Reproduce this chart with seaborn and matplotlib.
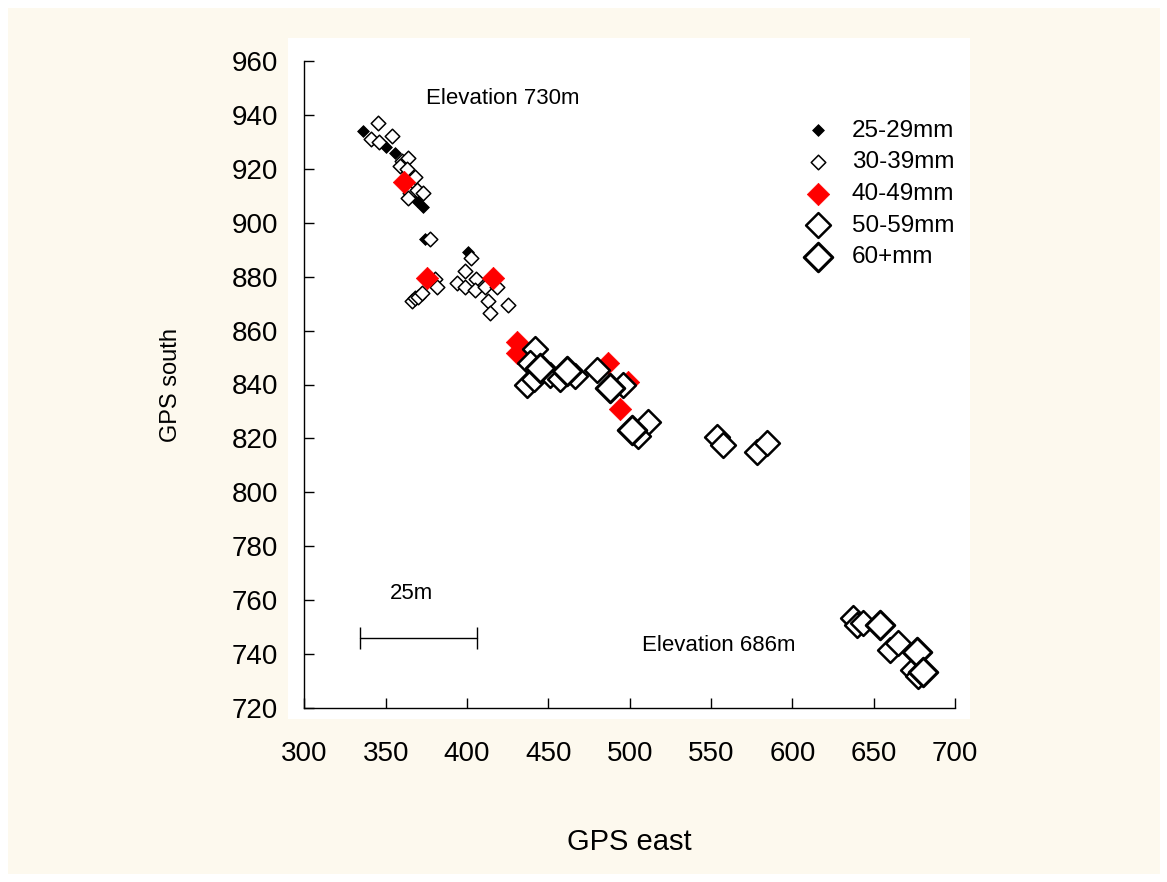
import matplotlib
matplotlib.use("Agg")
import matplotlib.pyplot as plt
from matplotlib.patches import Rectangle
import seaborn as sns
import pandas as pd

# Shell-length classes and their GPS positions (east, south)
classes = ["25-29mm", "30-39mm", "40-49mm", "50-59mm", "60+mm"]

east_25 = [336, 350, 356, 369, 373, 374, 400.5]
south_25 = [934, 928, 926, 908, 906, 894, 889]

east_30 = [345, 341, 346, 354, 360, 364, 359, 363, 368, 365, 369, 373, 364,
           377, 402.5, 399, 380, 381.5, 366, 368, 370, 372, 394, 399, 405.6,
           405, 411, 418.5, 413, 414, 425]
south_30 = [937, 931, 930, 932, 923, 924, 921, 920, 917, 911, 912, 911, 909,
            894, 887, 882, 879, 876, 871, 872, 872.5, 874, 877.6, 876, 879,
            875, 876, 876, 871, 866.5, 869.5]

east_40 = [361, 375.5, 416, 430.8, 430.8, 447, 486.8, 499, 494]
south_40 = [915, 879.5, 879.5, 855.8, 851.7, 846, 848, 841, 831]

east_50 = [442, 439, 437, 441, 451, 457, 466.5, 480, 496, 511, 505, 553.6,
           557.4, 578, 584.5, 637.4, 640, 643.6, 660, 665, 674.3, 677]
south_50 = [853, 848, 840, 842, 843.5, 842, 843, 845.4, 840, 826, 821, 820.5,
            817.6, 815, 818.3, 753.4, 750.8, 751.5, 741.5, 744, 734, 732]

east_60 = [445, 461.6, 488, 501.6, 654, 676.7, 680.4]
south_60 = [846, 845, 838.7, 823, 750.8, 740.8, 733.4]

x_ticks = [300, 350, 400, 450, 500, 550, 600, 650, 700]
y_ticks = [720, 740, 760, 780, 800, 820, 840, 860, 880, 900, 920, 940, 960]

frames = []
for cls, ex, so in zip(classes,
                       [east_25, east_30, east_40, east_50, east_60],
                       [south_25, south_30, south_40, south_50, south_60]):
    frames.append(pd.DataFrame({"east": ex, "south": so, "length": cls}))
df = pd.concat(frames, ignore_index=True)

# marker styling per class
styles = {
    "25-29mm": dict(s=36, color="black", edgecolor="black", linewidth=0.6),
    "30-39mm": dict(s=55, color="white", edgecolor="black", linewidth=1.1),
    "40-49mm": dict(s=130, color="#ff0000", edgecolor="#ff0000", linewidth=0.5),
    "50-59mm": dict(s=160, color="white", edgecolor="black", linewidth=1.8),
    "60+mm": dict(s=210, color="white", edgecolor="black", linewidth=2.2),
}

sns.set_theme(style="ticks")
plt.rcParams["font.family"] = ["Liberation Sans", "DejaVu Sans"]
plt.rcParams["text.color"] = "black"
plt.rcParams["axes.labelcolor"] = "black"
plt.rcParams["xtick.color"] = "black"
plt.rcParams["ytick.color"] = "black"

W, H = 1167, 882
fig = plt.figure(figsize=(W / 100, H / 100), dpi=100)
fig.patch.set_facecolor("white")

# cream page and white plotting panel
fig.add_artist(Rectangle((8 / W, 8 / H), (1160 - 8) / W, (874 - 8) / H,
                         transform=fig.transFigure, facecolor="#fdf9ee",
                         edgecolor="none", zorder=-3))
fig.add_artist(Rectangle((288 / W, (H - 719) / H), (970 - 288) / W, (719 - 38) / H,
                         transform=fig.transFigure, facecolor="white",
                         edgecolor="none", zorder=-2))

ax = fig.add_axes([304.4 / W, (H - 708) / H, (955 - 304.4) / W, (708 - 61) / H])
ax.set_facecolor("none")

for cls in classes:
    sub = df[df["length"] == cls]
    sns.scatterplot(data=sub, x="east", y="south", marker="D", ax=ax,
                    label=cls, zorder=3, **styles[cls])

ax.set_xlim(300, 700)
ax.set_ylim(720, 960)
ax.set_xticks(x_ticks)
ax.set_yticks(y_ticks)
ax.tick_params(direction="in", length=7, width=1, labelsize=20, color="black",
               labelcolor="black")
ax.tick_params(axis="x", pad=24)
ax.tick_params(axis="y", pad=19)
for side in ["top", "right"]:
    ax.spines[side].set_visible(False)
for side in ["left", "bottom"]:
    ax.spines[side].set_linewidth(1.0)
    ax.spines[side].set_color("black")

ax.set_xlabel("GPS east", fontsize=21, labelpad=43.5, color="black")
ax.set_ylabel("GPS south", fontsize=17, labelpad=35.5, color="black")

# annotations
ax.text(375, 946, "Elevation 730m", fontsize=16, ha="left", va="center")
ax.text(507.5, 743, "Elevation 686m", fontsize=16, ha="left", va="center")
ax.text(366, 762.5, "25m", fontsize=16, ha="center", va="center")

# scale bar
ax.plot([334, 406], [746, 746], color="black", lw=1, zorder=2)
ax.plot([334, 406], [746, 746], color="black", lw=0, marker="|",
        markersize=16, markeredgewidth=1, zorder=2)

leg = ax.legend(loc="upper left", bbox_to_anchor=(0.737, 0.9246), frameon=False,
                fontsize=17.5, labelspacing=0.4, handletextpad=0.4,
                borderaxespad=0)

fig.savefig("out.png", dpi=100, facecolor=fig.get_facecolor())
